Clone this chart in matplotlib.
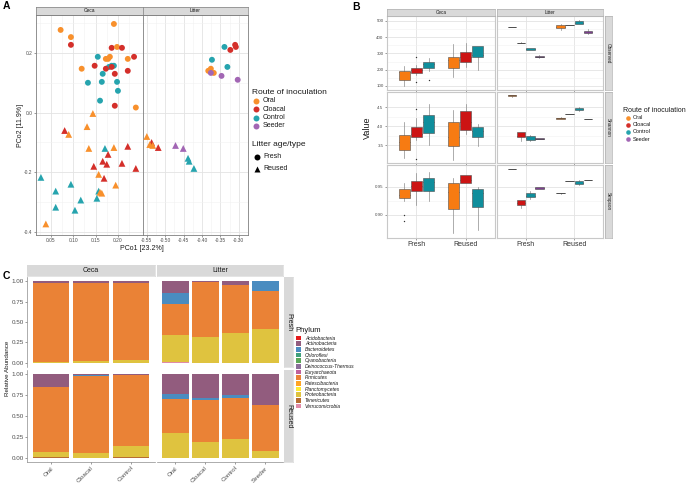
import matplotlib.pyplot as plt

plt.rcParams['font.family'] = ['Liberation Sans', 'DejaVu Sans']
plt.rcParams['axes.unicode_minus'] = False

W, H = 696, 483
routes = ['Oral', 'Cloacal', 'Control', 'Seeder']
code = {'O': 'Oral', 'C': 'Cloacal', 'K': 'Control', 'S': 'Seeder'}

# ---------------- A: PCoA ----------------
ceca_fresh_x = [0.072, 0.191, 0.095, 0.095, 0.186, 0.198, 0.209, 0.155, 0.182, 0.173,
                0.178, 0.236, 0.222, 0.119, 0.148, 0.180, 0.186, 0.191, 0.186, 0.173,
                0.222, 0.166, 0.193, 0.133, 0.164, 0.198, 0.200, 0.160, 0.193, 0.240]
ceca_fresh_y = [0.277, 0.297, 0.253, 0.227, 0.217, 0.220, 0.217, 0.187, 0.187, 0.180,
                0.180, 0.187, 0.180, 0.147, 0.157, 0.153, 0.157, 0.157, 0.153, 0.147,
                0.140, 0.130, 0.130, 0.100, 0.103, 0.103, 0.073, 0.040, 0.023, 0.017]
ceca_fresh_route = 'OOOCCOCKOOOCOOCKKKCCCKCKKKKKCO'

ceca_reused_x = [0.144, 0.081, 0.090, 0.131, 0.135, 0.171, 0.191, 0.222, 0.178, 0.166,
                 0.175, 0.209, 0.146, 0.240, 0.157, 0.169, 0.028, 0.195, 0.095, 0.061,
                 0.157, 0.160, 0.164, 0.153, 0.117, 0.061, 0.104, 0.039]
ceca_reused_y = [-0.003, -0.060, -0.073, -0.047, -0.120, -0.120, -0.117, -0.113, -0.140, -0.163,
                 -0.173, -0.170, -0.180, -0.187, -0.207, -0.220, -0.217, -0.243, -0.240, -0.263,
                 -0.263, -0.267, -0.270, -0.287, -0.293, -0.317, -0.327, -0.373]
ceca_reused_route = 'OCOOOKOCCCCCCCOCKOKKKOOKKKKO'

litter_fresh_x = [-0.339, -0.310, -0.308, -0.323, -0.373, -0.331, -0.383, -0.376, -0.368,
                  -0.376, -0.347, -0.303]
litter_fresh_y = [0.220, 0.227, 0.220, 0.210, 0.177, 0.153, 0.140, 0.147, 0.133,
                  0.133, 0.123, 0.110]
litter_fresh_route = 'KCCCKKOOOSSS'

litter_reused_x = [-0.550, -0.537, -0.542, -0.534, -0.519, -0.472, -0.451, -0.438, -0.435, -0.422]
litter_reused_y = [-0.080, -0.100, -0.107, -0.110, -0.117, -0.110, -0.120, -0.153, -0.163, -0.187]
litter_reused_route = 'OCOOCSSKKK'

col_a = {'Oral': '#F8902C', 'Cloacal': '#D42F2A', 'Control': '#26A4AE', 'Seeder': '#A266B4'}

# ---------------- B: alpha diversity boxes [whislo, q1, med, q3, whishi] ----------------
b_metrics = ['Observed', 'Shannon', 'Simpson']
b_groups = ['Fresh', 'Reused']
ceca_observed = [[100, 138, 187, 193, 224], [165, 181, 200, 212, 230], [190, 212, 236, 248, 273],
                 [156, 212, 261, 279, 359], [218, 248, 279, 310, 365], [200, 279, 291, 347, 347]]
ceca_observed_out = [[], [279, 126], [138], [], [], []]
ceca_shannon = [[3.16, 3.37, 3.58, 3.76, 4.11], [3.63, 3.71, 3.79, 3.97, 4.21], [3.50, 3.82, 4.10, 4.29, 4.58],
                [3.10, 3.47, 3.71, 4.10, 4.42], [3.80, 3.89, 4.10, 4.39, 4.58], [3.47, 3.71, 3.87, 3.97, 4.07]]
ceca_shannon_out = [[], [4.45, 3.13], [], [], [], []]
ceca_simpson = [[0.925, 0.930, 0.936, 0.946, 0.957], [0.918, 0.943, 0.952, 0.961, 0.975],
                [0.924, 0.943, 0.959, 0.966, 0.977], [0.868, 0.911, 0.941, 0.957, 0.966],
                [0.957, 0.957, 0.963, 0.971, 0.971], [0.874, 0.914, 0.939, 0.946, 0.950]]
ceca_simpson_out = [[0.900, 0.889], [], [], [], [], []]

litter_observed = [[463, 463, 463, 463, 463], [362, 363, 365, 367, 369], [320, 324, 328, 331, 336],
                   [270, 275, 279, 282, 290], [445, 455, 463, 472, 478], [472, 472, 472, 472, 472],
                   [478, 482, 490, 500, 505], [420, 425, 433, 440, 447]]
litter_shannon = [[4.77, 4.80, 4.82, 4.83, 4.83], [3.62, 3.71, 3.75, 3.84, 3.84], [3.62, 3.64, 3.68, 3.74, 3.78],
                  [3.65, 3.66, 3.67, 3.69, 3.70], [4.19, 4.20, 4.21, 4.22, 4.23], [4.32, 4.32, 4.32, 4.32, 4.32],
                  [4.40, 4.43, 4.46, 4.49, 4.50], [4.18, 4.18, 4.19, 4.20, 4.20]]
litter_simpson = [[0.982, 0.982, 0.982, 0.982, 0.982], [0.912, 0.918, 0.921, 0.926, 0.926],
                  [0.929, 0.932, 0.934, 0.939, 0.943], [0.947, 0.947, 0.948, 0.949, 0.949],
                  [0.938, 0.939, 0.939, 0.940, 0.940], [0.961, 0.961, 0.961, 0.961, 0.961],
                  [0.953, 0.955, 0.957, 0.960, 0.962], [0.963, 0.963, 0.963, 0.963, 0.963]]

b_ylims = [(75, 530), (3.03, 4.9), (0.859, 0.989)]
b_yticks = [[100, 200, 300, 400, 500], [3.5, 4.0, 4.5], [0.90, 0.95]]
b_ylabels = [['100', '200', '300', '400', '500'], ['3.5', '4.0', '4.5'], ['0.90', '0.95']]
col_b = {'Oral': '#F77B12', 'Cloacal': '#CC1414', 'Control': '#0F8E9C', 'Seeder': '#7D3F8F'}

# ---------------- C: relative abundance ----------------
c_bars_ceca = ['Oral', 'Cloacal', 'Control']
c_bars_litter = ['Oral', 'Cloacal', 'Control', 'Seeder']
c_phyla = ['Acidobacteria', 'Actinobacteria', 'Bacteroidetes', 'Chloroflexi', 'Cyanobacteria',
           'Deinococcus-Thermus', 'Euryarchaeota', 'Firmicutes', 'Patescibacteria',
           'Planctomycetes', 'Proteobacteria', 'Tenericutes', 'Verrucomicrobia']
c_colors = ['#E41A1C', '#925C7E', '#4A8CC0', '#3FA07C', '#5BA75A', '#8C6E9A', '#C0619C',
            '#EA8236', '#FFA424', '#FFEB33', '#DFC33F', '#B76D33', '#E18AA8']
# bars: Ceca Oral, Cloacal, Control, Litter Oral, Cloacal, Control, Seeder
fresh_actino = [0.02, 0.02, 0.02, 0.14, 0.015, 0.045, 0.0]
fresh_bactero = [0.0, 0.0, 0.0, 0.14, 0.0, 0.0, 0.12]
fresh_firmi = [0.97, 0.96, 0.95, 0.38, 0.665, 0.595, 0.46]
fresh_proteo = [0.01, 0.02, 0.03, 0.33, 0.32, 0.36, 0.42]
fresh_verruco = [0.0, 0.0, 0.0, 0.01, 0.0, 0.0, 0.0]
reused_actino = [0.15, 0.015, 0.01, 0.24, 0.28, 0.25, 0.37]
reused_bactero = [0.0, 0.01, 0.0, 0.06, 0.03, 0.03, 0.0]
reused_firmi = [0.78, 0.915, 0.85, 0.40, 0.50, 0.50, 0.55]
reused_proteo = [0.06, 0.06, 0.13, 0.30, 0.19, 0.22, 0.08]
reused_teneri = [0.01, 0.0, 0.01, 0.0, 0.0, 0.0, 0.0]

fig = plt.figure(figsize=(W / 100, H / 100), dpi=100)


def px_axes(x0, y0, x1, y1):
    return fig.add_axes([x0 / W, 1 - y1 / H, (x1 - x0) / W, (y1 - y0) / H])


def strip(x0, y0, x1, y1, label, rot=0, size=3.5, edge='#7F7F7F'):
    s = px_axes(x0, y0, x1, y1)
    s.set_facecolor('#D9D9D9')
    s.set_xticks([])
    s.set_yticks([])
    for sp in s.spines.values():
        sp.set_color(edge)
        sp.set_linewidth(0.5)
    s.text(0.5, 0.5, label, ha='center', va='center', rotation=rot, fontsize=size,
           color='#1A1A1A', transform=s.transAxes)


def style_bw(ax, border='#7F7F7F', lw=0.6, size=3.5):
    ax.set_facecolor('white')
    ax.grid(True, which='major', color='#E3E3E3', lw=0.6)
    ax.grid(True, which='minor', color='#F1F1F1', lw=0.4)
    ax.set_axisbelow(True)
    for sp in ax.spines.values():
        sp.set_color(border)
        sp.set_linewidth(lw)
    ax.tick_params(which='major', labelsize=size, length=1.5, width=0.4, colors='#4D4D4D', pad=1)
    ax.tick_params(which='minor', length=0)


# ---- panel A ----
a_ceca = px_axes(36, 15, 143, 235)
a_litter = px_axes(143, 15, 248, 235)
for ax, sets, xl, xt in [
        (a_ceca, [(ceca_fresh_x, ceca_fresh_y, ceca_fresh_route, 'o'),
                  (ceca_reused_x, ceca_reused_y, ceca_reused_route, '^')],
         (0.017, 0.256), [0.05, 0.10, 0.15, 0.20]),
        (a_litter, [(litter_fresh_x, litter_fresh_y, litter_fresh_route, 'o'),
                    (litter_reused_x, litter_reused_y, litter_reused_route, '^')],
         (-0.5604, -0.287), [-0.55, -0.50, -0.45, -0.40, -0.35, -0.30])]:
    style_bw(ax)
    for xs, ys, rs, m in sets:
        ax.scatter(xs, ys, c=[col_a[code[r]] for r in rs], marker=m,
                   s=18 if m == 'o' else 24, edgecolors='none', zorder=3)
    ax.set_xlim(xl)
    ax.set_ylim(-0.41, 0.327)
    ax.set_xticks(xt)
    ax.set_xticklabels(['%.2f' % v for v in xt])
    ax.set_xticks([v + 0.025 for v in xt], minor=True)
    ax.set_yticks([-0.4, -0.2, 0.0, 0.2])
    ax.set_yticks([-0.3, -0.1, 0.1, 0.3], minor=True)
a_ceca.set_yticklabels(['-0.4', '-0.2', '0.0', '0.2'])
a_litter.tick_params(axis='y', which='both', left=False, labelleft=False)
a_ceca.set_xticks([0.025, 0.075, 0.125, 0.175, 0.225], minor=True)
strip(36, 7, 143, 15, 'Ceca')
strip(143, 7, 248, 15, 'Litter')
fig.text(142 / W, 1 - 248.5 / H, 'PCo1 [23.2%]', ha='center', va='center', fontsize=5, color='#1A1A1A')
fig.text(21 / W, 1 - 125 / H, 'PCo2 [11.9%]', ha='center', va='center', rotation=90, fontsize=5,
         color='#1A1A1A')

# ---- panel B ----
b_rows = [(16, 90), (92, 163), (165, 238)]
b_cols = [(387, 495), (497, 603)]
b_data = [(ceca_observed, ceca_observed_out, litter_observed),
          (ceca_shannon, ceca_shannon_out, litter_shannon),
          (ceca_simpson, ceca_simpson_out, litter_simpson)]


def draw_boxes(ax, stats, outliers, n):
    if n == 3:
        offs, w = [-0.25, 0.0, 0.25], 0.22
    else:
        offs, w = [-0.28125, -0.09375, 0.09375, 0.28125], 0.17
    for i, s in enumerate(stats):
        g, r = divmod(i, n)
        d = dict(whislo=s[0], q1=s[1], med=s[2], q3=s[3], whishi=s[4],
                 fliers=outliers[i] if outliers else [])
        bp = ax.bxp([d], positions=[g + 1 + offs[r]], widths=w, patch_artist=True,
                    showcaps=False, manage_ticks=False,
                    boxprops=dict(edgecolor='#4D4D4D', linewidth=0.4),
                    medianprops=dict(color='#333333', linewidth=0.6),
                    whiskerprops=dict(color='#8C8C8C', linewidth=0.5),
                    flierprops=dict(marker='o', markersize=1.0, markerfacecolor='#333333',
                                    markeredgecolor='none'))
        bp['boxes'][0].set_facecolor(col_b[routes[r]])
        bp['boxes'][0].set_zorder(3)


for ri, (y0, y1) in enumerate(b_rows):
    ceca_s, ceca_o, litter_s = b_data[ri]
    for ci, (x0, x1) in enumerate(b_cols):
        ax = px_axes(x0, y0, x1, y1)
        style_bw(ax, border='#C8C8C8', lw=0.8, size=3.2)
        if ci == 0:
            draw_boxes(ax, ceca_s, ceca_o, 3)
        else:
            draw_boxes(ax, litter_s, None, 4)
        ax.set_xlim(0.4, 2.6)
        ax.set_ylim(b_ylims[ri])
        ax.set_xticks([1, 2])
        ax.set_yticks(b_yticks[ri])
        ax.set_yticks([(a + b) / 2 for a, b in zip(b_yticks[ri][:-1], b_yticks[ri][1:])], minor=True)
        if ri == 2:
            ax.set_xticklabels(b_groups, fontsize=5, color='#333333')
        else:
            ax.set_xticklabels([])
        if ci == 0:
            ax.set_yticklabels(b_ylabels[ri])
        else:
            ax.tick_params(axis='y', which='both', left=False, labelleft=False)
    strip(605, y0, 612, y1, b_metrics[ri], rot=-90, size=3.3, edge='#B0B0B0')
strip(387, 9, 495, 16, 'Ceca', size=3.3, edge='#B0B0B0')
strip(497, 9, 603, 16, 'Litter', size=3.3, edge='#B0B0B0')
fig.text(367 / W, 1 - 128 / H, 'Value', ha='center', va='center', rotation=90, fontsize=6.5,
         color='#1A1A1A')

# ---- panel C ----
c_rows = [(277, 367), (370, 462)]
c_cols = [(27, 155), (157, 283)]
c_sets = [dict(Actinobacteria=fresh_actino, Bacteroidetes=fresh_bactero, Firmicutes=fresh_firmi,
               Proteobacteria=fresh_proteo, Verrucomicrobia=fresh_verruco),
          dict(Actinobacteria=reused_actino, Bacteroidetes=reused_bactero, Firmicutes=reused_firmi,
               Proteobacteria=reused_proteo, Tenericutes=reused_teneri)]
for ri, (y0, y1) in enumerate(c_rows):
    for ci, (x0, x1) in enumerate(c_cols):
        ax = px_axes(x0, y0, x1, y1)
        names = c_bars_ceca if ci == 0 else c_bars_litter
        sl = slice(0, 3) if ci == 0 else slice(3, 7)
        xs = list(range(1, len(names) + 1))
        bottom = [0.0] * len(names)
        for ph, colr in zip(c_phyla[::-1], c_colors[::-1]):
            vals = c_sets[ri].get(ph)
            if vals is None:
                continue
            vals = vals[sl]
            ax.bar(xs, vals, width=0.9, bottom=bottom, color=colr, linewidth=0)
            bottom = [b + v for b, v in zip(bottom, vals)]
        ax.set_xlim(0.4, len(names) + 0.6)
        ax.set_ylim(-0.05, 1.05)
        for side in ['top', 'right']:
            ax.spines[side].set_visible(False)
        for side in ['left', 'bottom']:
            ax.spines[side].set_color('#8C8C8C')
            ax.spines[side].set_linewidth(0.5)
        ax.tick_params(labelsize=4.5, length=1.5, width=0.4, colors='#4D4D4D', pad=1)
        ax.set_xticks(xs)
        ax.set_yticks([0, 0.25, 0.5, 0.75, 1.0])
        if ri == 1:
            ax.set_xticklabels(names, rotation=45, ha='right', rotation_mode='anchor')
        else:
            ax.set_xticklabels([])
            ax.tick_params(axis='x', length=0)
            ax.spines['bottom'].set_visible(False)
        if ci == 0:
            ax.set_yticklabels(['0.00', '0.25', '0.50', '0.75', '1.00'])
        else:
            ax.tick_params(axis='y', left=False, labelleft=False)
            ax.spines['left'].set_visible(False)
    strip(284, y0, 293, y1, ['Fresh', 'Reused'][ri], rot=-90, size=5, edge='#D9D9D9')
strip(27, 265, 155, 276, 'Ceca', size=5, edge='#D9D9D9')
strip(157, 265, 283, 276, 'Litter', size=5, edge='#D9D9D9')
fig.text(8 / W, 1 - 368 / H, 'Relative Abundance', ha='center', va='center', rotation=90,
         fontsize=4.5, color='#1A1A1A')

# ---- legends and panel letters ----
ov = fig.add_axes([0, 0, 1, 1], facecolor='none')
ov.set_xlim(0, W)
ov.set_ylim(H, 0)
ov.axis('off')

ov.text(252, 93, 'Route of inoculation', fontsize=6, va='center', color='#1A1A1A')
for i, r in enumerate(routes):
    y = 101 + i * 8.3
    ov.plot(256, y, 'o', ms=4.3, color=col_a[r], mec='none')
    ov.text(263, y, r, fontsize=5, va='center', color='#1A1A1A')
ov.text(252, 144, 'Litter age/type', fontsize=6, va='center', color='#1A1A1A')
ov.plot(257, 157, 'o', ms=4.3, color='black', mec='none')
ov.text(263, 157, 'Fresh', fontsize=5, va='center', color='#1A1A1A')
ov.plot(257, 168.5, '^', ms=4.5, color='black', mec='none')
ov.text(263, 169, 'Reused', fontsize=5, va='center', color='#1A1A1A')

ov.text(623, 110, 'Route of inoculation', fontsize=5, va='center', color='#1A1A1A')
for i, r in enumerate(routes):
    y = 117.5 + i * 7.2
    ov.plot(628, y, 'o', ms=3.3, color=col_a[r], mec='none')
    ov.text(633, y, r, fontsize=4, va='center', color='#1A1A1A')

ov.text(295, 330, 'Phylum', fontsize=5.5, va='center', color='#1A1A1A')
for i, (ph, colr) in enumerate(zip(c_phyla, c_colors)):
    y = 338 + i * 5.67
    ov.add_patch(plt.Rectangle((296, y - 2.4), 5, 4.8, color=colr, lw=0))
    ov.text(305, y, ph, fontsize=3.6, style='italic', va='center', color='#1A1A1A')

ov.text(3, 6, 'A', fontsize=7.5, fontweight='bold', va='center')
ov.text(352, 7, 'B', fontsize=7.5, fontweight='bold', va='center')
ov.text(3, 276, 'C', fontsize=7.5, fontweight='bold', va='center')

fig.savefig('out.png', dpi=100)
